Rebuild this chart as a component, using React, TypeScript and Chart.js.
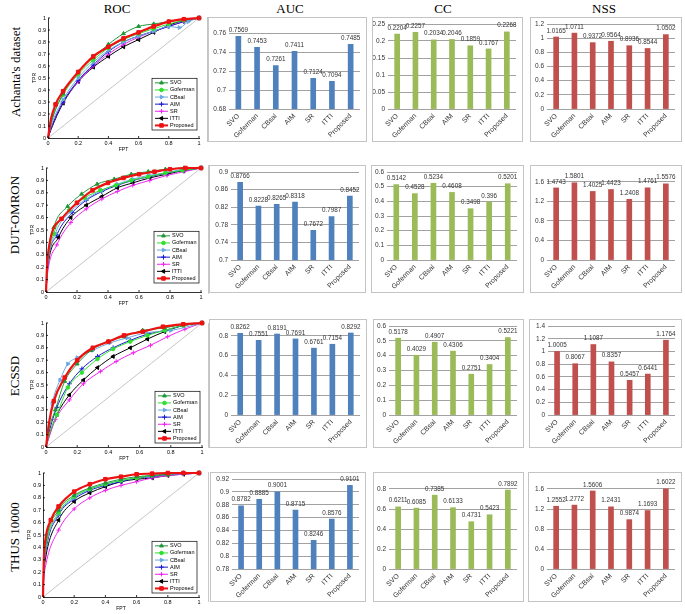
import React, { useEffect, useRef } from 'react';
import { Chart, registerables } from 'chart.js';
import { drawPoint } from 'chart.js/helpers';

Chart.register(...registerables);

// ---------------- data ----------------
const methods = ['SVO', 'Goferman', 'CBsal', 'AIM', 'SR', 'ITTI', 'Proposed'];
const datasetNames = ["Achanta's dataset", 'DUT-OMRON', 'ECSSD', 'THUS 10000'];
const columnTitles = ['ROC', 'AUC', 'CC', 'NSS'];

const aucAchanta = [0.7569, 0.7453, 0.7261, 0.7411, 0.7124, 0.7094, 0.7485];
const aucDut = [0.8766, 0.8228, 0.8265, 0.8318, 0.7672, 0.7987, 0.8452];
const aucEcssd = [0.8262, 0.7551, 0.8191, 0.7691, 0.6761, 0.7154, 0.8292];
const aucThus = [0.8782, 0.8885, 0.9001, 0.8715, 0.8246, 0.8576, 0.9101];

const ccAchanta = [0.2204, 0.2257, 0.2034, 0.2046, 0.1859, 0.1767, 0.2268];
const ccDut = [0.5142, 0.4528, 0.5234, 0.4608, 0.3498, 0.396, 0.5201];
const ccEcssd = [0.5178, 0.4029, 0.4907, 0.4306, 0.2751, 0.3404, 0.5221];
const ccThus = [0.6211, 0.6085, 0.7385, 0.6133, 0.4731, 0.5423, 0.7892];

const nssAchanta = [1.0165, 1.0711, 0.9372, 0.9564, 0.8936, 0.8544, 1.0502];
const nssDut = [1.4743, 1.5801, 1.4025, 1.4423, 1.2408, 1.4761, 1.5576];
const nssEcssd = [1.0005, 0.8067, 1.1087, 0.8357, 0.5457, 0.6441, 1.1764];
const nssThus = [1.2552, 1.2772, 1.5606, 1.2431, 0.9874, 1.1693, 1.6022];

// y axis ranges [min, max, step]
const aucTicks = [[0.68, 0.77, 0.01], [0.7, 0.9, 0.02], [0, 0.9, 0.1], [0.78, 0.92, 0.02]];
const ccTicks = [[0, 0.25, 0.05], [0, 0.6, 0.1], [0, 0.6, 0.1], [0, 0.9, 0.1]];
const nssTicks = [[0, 1.2, 0.2], [0, 1.8, 0.2], [0, 1.4, 0.2], [0, 1.8, 0.2]];
const rocXTicks = [0, 0.2, 0.4, 0.6, 0.8, 1];
const rocYTicks = [0, 0.1, 0.2, 0.3, 0.4, 0.5, 0.6, 0.7, 0.8, 0.9, 1];

// ROC curves (FPR, TPR), in method order
const rocAchanta: number[][][] = [
  [[0, 0], [0.02, 0.12], [0.1, 0.37], [0.2, 0.55], [0.3, 0.67], [0.4, 0.78], [0.5, 0.87], [0.6, 0.93], [0.7, 0.95], [0.8, 0.97], [0.9, 0.99], [1, 1]],
  [[0, 0], [0.02, 0.13], [0.1, 0.36], [0.2, 0.53], [0.3, 0.65], [0.4, 0.75], [0.5, 0.82], [0.6, 0.87], [0.7, 0.91], [0.8, 0.95], [0.9, 0.98], [1, 1]],
  [[0, 0], [0.02, 0.1], [0.1, 0.32], [0.2, 0.5], [0.3, 0.63], [0.4, 0.73], [0.5, 0.8], [0.6, 0.85], [0.7, 0.89], [0.8, 0.93], [0.87, 0.92], [0.93, 0.97], [1, 1]],
  [[0, 0], [0.02, 0.08], [0.1, 0.3], [0.2, 0.48], [0.3, 0.61], [0.4, 0.72], [0.5, 0.8], [0.6, 0.85], [0.7, 0.89], [0.8, 0.93], [0.9, 0.97], [1, 1]],
  [[0, 0], [0.02, 0.08], [0.1, 0.3], [0.2, 0.47], [0.3, 0.6], [0.4, 0.7], [0.5, 0.78], [0.6, 0.84], [0.7, 0.89], [0.8, 0.93], [0.9, 0.97], [1, 1]],
  [[0, 0], [0.02, 0.07], [0.1, 0.29], [0.2, 0.47], [0.3, 0.59], [0.4, 0.68], [0.5, 0.76], [0.6, 0.82], [0.7, 0.88], [0.8, 0.94], [0.9, 0.98], [1, 1]],
  [[0, 0], [0.02, 0.16], [0.05, 0.28], [0.1, 0.39], [0.2, 0.55], [0.3, 0.68], [0.4, 0.76], [0.5, 0.83], [0.6, 0.88], [0.7, 0.93], [0.8, 0.97], [0.9, 0.99], [1, 1]],
];
const rocDut: number[][][] = [
  [[0, 0], [0.01, 0.25], [0.05, 0.52], [0.14, 0.69], [0.23, 0.79], [0.33, 0.87], [0.44, 0.91], [0.55, 0.95], [0.66, 0.97], [0.77, 0.99], [0.89, 1], [1, 1]],
  [[0, 0], [0.01, 0.22], [0.05, 0.47], [0.15, 0.66], [0.25, 0.76], [0.35, 0.82], [0.45, 0.86], [0.55, 0.9], [0.66, 0.93], [0.77, 0.96], [0.88, 0.98], [1, 1]],
  [[0, 0], [0.01, 0.2], [0.06, 0.47], [0.16, 0.65], [0.26, 0.75], [0.36, 0.82], [0.46, 0.87], [0.56, 0.91], [0.66, 0.94], [0.77, 0.96], [0.88, 0.99], [1, 1]],
  [[0, 0], [0.01, 0.2], [0.07, 0.46], [0.17, 0.64], [0.26, 0.74], [0.36, 0.81], [0.46, 0.86], [0.56, 0.9], [0.67, 0.93], [0.78, 0.96], [0.89, 0.98], [1, 1]],
  [[0, 0], [0.01, 0.15], [0.07, 0.38], [0.16, 0.56], [0.26, 0.67], [0.36, 0.75], [0.46, 0.81], [0.56, 0.86], [0.67, 0.9], [0.78, 0.94], [0.89, 0.97], [1, 1]],
  [[0, 0], [0.01, 0.18], [0.08, 0.44], [0.16, 0.6], [0.26, 0.7], [0.36, 0.77], [0.46, 0.84], [0.56, 0.88], [0.67, 0.92], [0.78, 0.95], [0.89, 0.98], [1, 1]],
  [[0, 0], [0.01, 0.28], [0.1, 0.59], [0.2, 0.72], [0.3, 0.82], [0.4, 0.88], [0.5, 0.92], [0.6, 0.95], [0.7, 0.97], [0.8, 0.99], [0.9, 1], [1, 1]],
];
const rocEcssd: number[][][] = [
  [[0, 0], [0.02, 0.15], [0.06, 0.3], [0.12, 0.53], [0.2, 0.67], [0.29, 0.78], [0.4, 0.85], [0.5, 0.89], [0.62, 0.94], [0.76, 0.96], [0.88, 0.99], [1, 1]],
  [[0, 0], [0.02, 0.1], [0.07, 0.26], [0.14, 0.48], [0.23, 0.6], [0.33, 0.71], [0.43, 0.79], [0.54, 0.85], [0.65, 0.9], [0.76, 0.94], [0.88, 0.98], [1, 1]],
  [[0, 0], [0.02, 0.18], [0.04, 0.35], [0.09, 0.54], [0.14, 0.67], [0.2, 0.72], [0.3, 0.78], [0.41, 0.84], [0.52, 0.88], [0.64, 0.92], [0.8, 0.94], [1, 1]],
  [[0, 0], [0.02, 0.12], [0.07, 0.32], [0.15, 0.51], [0.23, 0.63], [0.33, 0.73], [0.43, 0.8], [0.54, 0.86], [0.65, 0.91], [0.76, 0.94], [0.88, 0.98], [1, 1]],
  [[0, 0], [0.02, 0.08], [0.06, 0.22], [0.15, 0.38], [0.24, 0.51], [0.35, 0.61], [0.45, 0.69], [0.56, 0.76], [0.67, 0.82], [0.78, 0.89], [0.89, 0.95], [1, 1]],
  [[0, 0], [0.02, 0.09], [0.07, 0.26], [0.15, 0.42], [0.24, 0.54], [0.33, 0.64], [0.43, 0.73], [0.54, 0.8], [0.65, 0.87], [0.76, 0.93], [0.88, 0.98], [1, 1]],
  [[0, 0], [0.02, 0.2], [0.05, 0.37], [0.12, 0.56], [0.2, 0.7], [0.3, 0.8], [0.4, 0.85], [0.5, 0.9], [0.62, 0.93], [0.75, 0.97], [0.88, 0.99], [1, 1]],
];
const rocThus: number[][][] = [
  [[0, 0], [0.005, 0.25], [0.015, 0.4], [0.1, 0.7], [0.2, 0.82], [0.3, 0.88], [0.4, 0.92], [0.5, 0.95], [0.6, 0.97], [0.7, 0.98], [0.8, 0.99], [0.9, 1], [1, 1]],
  [[0, 0], [0.005, 0.24], [0.015, 0.38], [0.1, 0.68], [0.2, 0.81], [0.3, 0.87], [0.4, 0.91], [0.5, 0.94], [0.6, 0.96], [0.7, 0.98], [0.8, 0.99], [0.9, 1], [1, 1]],
  [[0, 0], [0.005, 0.22], [0.015, 0.36], [0.1, 0.67], [0.2, 0.8], [0.3, 0.87], [0.4, 0.91], [0.5, 0.94], [0.6, 0.96], [0.7, 0.98], [0.8, 0.99], [0.9, 0.995], [1, 1]],
  [[0, 0], [0.005, 0.2], [0.015, 0.34], [0.1, 0.66], [0.2, 0.79], [0.3, 0.86], [0.4, 0.9], [0.5, 0.93], [0.6, 0.96], [0.7, 0.97], [0.8, 0.99], [0.9, 0.995], [1, 1]],
  [[0, 0], [0.005, 0.14], [0.015, 0.24], [0.1, 0.54], [0.2, 0.71], [0.3, 0.8], [0.4, 0.86], [0.5, 0.9], [0.6, 0.93], [0.7, 0.96], [0.8, 0.98], [0.9, 0.99], [1, 1]],
  [[0, 0], [0.005, 0.18], [0.015, 0.3], [0.1, 0.62], [0.2, 0.77], [0.3, 0.84], [0.4, 0.89], [0.5, 0.93], [0.6, 0.95], [0.7, 0.96], [0.8, 0.98], [0.9, 0.99], [1, 1]],
  [[0, 0], [0.005, 0.3], [0.015, 0.46], [0.05, 0.62], [0.1, 0.73], [0.2, 0.85], [0.3, 0.91], [0.4, 0.95], [0.5, 0.97], [0.6, 0.99], [0.7, 0.995], [0.8, 1], [0.9, 1], [1, 1]],
];

// ---------------- styles ----------------
const methodColors = ['#21963a', '#2ee02e', '#6aa8e0', '#1a1ad0', '#f025f0', '#000000', '#ee1111'];
const pointStyles = ['triangle', 'circle', 'triangle', 'cross', 'cross', 'triangle', 'rect'];
const pointRotations = [0, 0, 90, 0, 0, -90, 0];
const pointRadii = [2.2, 1.8, 2.2, 2.4, 2.2, 2.2, 2.5];
const aucColor = '#4F81BD';
const ccColor = '#9BBB59';
const nssColor = '#C0504D';
const sans = '"Liberation Sans", Arial, sans-serif';

const rocLegendPlugin = {
  id: 'rocLegend',
  afterDraw(chart: any) {
    const opts = chart.options.plugins.rocLegend;
    if (!opts) return;
    const { ctx, chartArea } = chart;
    // inward tick marks
    const xs = chart.scales.x;
    const ys = chart.scales.y;
    ctx.save();
    ctx.strokeStyle = '#000';
    ctx.lineWidth = 0.8;
    ctx.beginPath();
    rocXTicks.forEach((v) => {
      const px = xs.getPixelForValue(v);
      ctx.moveTo(px, chartArea.bottom);
      ctx.lineTo(px, chartArea.bottom - 2);
    });
    rocYTicks.forEach((v) => {
      const py = ys.getPixelForValue(v);
      ctx.moveTo(chartArea.left, py);
      ctx.lineTo(chartArea.left + 2, py);
    });
    ctx.stroke();
    ctx.restore();

    const w = 45;
    const rowH = 7.1;
    const h = rowH * 7 + 2;
    const x = chartArea.right - opts.right - w;
    const y = chartArea.bottom - opts.bottom - h;
    ctx.save();
    ctx.fillStyle = '#fff';
    ctx.fillRect(x, y, w, h);
    ctx.strokeStyle = '#000';
    ctx.lineWidth = 0.7;
    ctx.strokeRect(x, y, w, h);
    methods.forEach((m, i) => {
      const cy = y + 1 + rowH * (i + 0.5);
      ctx.strokeStyle = methodColors[i];
      ctx.fillStyle = methodColors[i];
      ctx.lineWidth = i === 6 ? 2 : 1;
      ctx.beginPath();
      ctx.moveTo(x + 3, cy);
      ctx.lineTo(x + 16, cy);
      ctx.stroke();
      ctx.lineWidth = 1;
      drawPoint(ctx, { pointStyle: pointStyles[i], rotation: pointRotations[i], radius: pointRadii[i], borderWidth: 1 } as any, x + 9.5, cy);
      ctx.fillStyle = '#000';
      ctx.font = '5.5px ' + sans;
      ctx.textBaseline = 'middle';
      ctx.textAlign = 'left';
      ctx.fillText(m, x + 18, cy);
    });
    ctx.restore();
  },
};

const barLabelPlugin = {
  id: 'barLabels',
  afterDatasetsDraw(chart: any) {
    const { ctx } = chart;
    const meta = chart.getDatasetMeta(0);
    const values = chart.data.datasets[0].data;
    ctx.save();
    ctx.font = '6.3px ' + sans;
    ctx.fillStyle = '#333';
    ctx.textAlign = 'center';
    ctx.textBaseline = 'bottom';
    meta.data.forEach((el: any, i: number) => {
      ctx.fillText(String(values[i]), el.x, el.y - 3);
    });
    ctx.restore();
  },
};

function rocConfig(curves: number[][][], legendBottom: number) {
  const datasets: any[] = curves.map((pts, i) => ({
    label: methods[i],
    data: pts.map(([x, y]) => ({ x, y })),
    borderColor: methodColors[i],
    backgroundColor: methodColors[i],
    borderWidth: i === 6 ? 2.2 : 1,
    pointStyle: pointStyles[i],
    pointRotation: pointRotations[i],
    pointRadius: (c: any) => (c.raw && c.raw.x < 0.04 ? 0 : pointRadii[i]),
    pointBorderWidth: 1,
    cubicInterpolationMode: 'monotone',
    clip: false,
    order: i === 6 ? 0 : 1 + i,
  }));
  datasets.push({
    label: 'diag',
    data: [{ x: 0, y: 0 }, { x: 1, y: 1 }],
    borderColor: '#b8b8b8',
    borderWidth: 0.8,
    pointRadius: 0,
    order: 20,
  });
  const tickFont = { size: 5.5, family: sans };
  return {
    type: 'line',
    data: { datasets },
    options: {
      responsive: false,
      animation: false,
      layout: { padding: { top: 6, right: 8, left: 0, bottom: 0 } },
      plugins: { legend: { display: false }, tooltip: { enabled: false }, rocLegend: { right: 2, bottom: legendBottom } },
      scales: {
        x: {
          type: 'linear', min: 0, max: 1,
          afterBuildTicks: (s: any) => { s.ticks = rocXTicks.map((v) => ({ value: v })); },
          ticks: { autoSkip: false, maxRotation: 0, font: tickFont, color: '#000', padding: 2, callback: (v: any) => String(Number(Number(v).toFixed(1))) },
          grid: { display: false, drawTicks: false },
          border: { color: '#000', width: 0.8 },
          title: { display: true, text: 'FPT', font: { size: 5, family: sans }, color: '#000', padding: 0 },
          afterFit: (s: any) => { s.height = 15; s.paddingLeft = 0; s.paddingRight = 0; },
        },
        y: {
          type: 'linear', min: 0, max: 1,
          afterBuildTicks: (s: any) => { s.ticks = rocYTicks.map((v) => ({ value: v })); },
          ticks: { autoSkip: false, font: tickFont, color: '#000', padding: 2, callback: (v: any) => String(Number(Number(v).toFixed(1))) },
          grid: { display: false, drawTicks: false },
          border: { color: '#000', width: 0.8 },
          title: { display: true, text: 'TPR', font: { size: 5, family: sans }, color: '#000', padding: 0 },
          afterFit: (s: any) => { s.width = 16; s.paddingTop = 0; s.paddingBottom = 0; },
        },
      },
    },
    plugins: [rocLegendPlugin],
  };
}

function barConfig(values: number[], color: string, ticks: number[], yWidth: number) {
  const [min, max, step] = ticks;
  return {
    type: 'bar',
    data: { labels: methods, datasets: [{ data: values, backgroundColor: color, barThickness: 5 }] },
    options: {
      responsive: false,
      animation: false,
      layout: { padding: { top: 6, right: 6, left: 0, bottom: 0 } },
      plugins: { legend: { display: false }, tooltip: { enabled: false } },
      scales: {
        x: {
          grid: { display: false, drawTicks: false },
          border: { display: false },
          ticks: { minRotation: 45, maxRotation: 45, autoSkip: false, font: { size: 7, family: sans }, color: '#333', padding: 3 },
          afterFit: (s: any) => { s.height = 32; s.paddingLeft = 0; s.paddingRight = 0; },
        },
        y: {
          min, max,
          ticks: { stepSize: step, font: { size: 6.5, family: sans }, color: '#333', padding: 3, callback: (v: any) => String(Number(Number(v).toFixed(2))) },
          grid: { color: '#8a8a8a', lineWidth: 0.8, drawTicks: false },
          border: { display: false },
          afterFit: (s: any) => { s.width = yWidth; s.paddingTop = 0; s.paddingBottom = 0; },
        },
      },
    },
    plugins: [barLabelPlugin],
  };
}

// ---------------- layout ----------------
const rocRects = [
  { L: 48, R: 199, T: 18, B: 138, legendBottom: 8 },
  { L: 46, R: 201, T: 168, B: 292, legendBottom: 9 },
  { L: 46, R: 202, T: 323, B: 447, legendBottom: 4 },
  { L: 43, R: 199, T: 473, B: 597, legendBottom: 4 },
];
const rowBoxes = [
  { top: 17, h: 125, auc: [207, 160], cc: [372, 151], nss: [530, 152] },
  { top: 165, h: 128, auc: [209, 157], cc: [371, 153], nss: [530, 152] },
  { top: 319, h: 129, auc: [209, 158], cc: [373, 151], nss: [529, 153] },
  { top: 472, h: 130, auc: [210, 156], cc: [373, 151], nss: [528, 154] },
];
const panelLines = [[17, 142], [165, 294], [323, 448], [472, 602]];
const titleCenters = [117, 290, 443, 604];
const rowLabelCenters = [[16, 72], [15, 215], [15, 376], [15, 537]];

function ChartCanvas({ left, top, width, height, config }: any) {
  const ref = useRef<HTMLCanvasElement>(null);
  useEffect(() => {
    const chart = new Chart(ref.current as HTMLCanvasElement, config);
    return () => chart.destroy();
  }, []);
  return (
    <canvas
      ref={ref}
      width={width}
      height={height}
      style={{ position: 'absolute', left, top, width, height }}
    />
  );
}

function BarBox({ left, top, width, height, config }: any) {
  return (
    <>
      <div style={{ position: 'absolute', left, top, width: width - 2, height: height - 2, border: '1px solid #c4c4c4' }} />
      <ChartCanvas left={left + 1} top={top + 1} width={width - 2} height={height - 2} config={config} />
    </>
  );
}

export default function App() {
  const rocs = [rocAchanta, rocDut, rocEcssd, rocThus];
  const aucs = [aucAchanta, aucDut, aucEcssd, aucThus];
  const ccs = [ccAchanta, ccDut, ccEcssd, ccThus];
  const nsss = [nssAchanta, nssDut, nssEcssd, nssThus];
  const serif = '"Liberation Serif", "Times New Roman", serif';
  return (
    <div style={{ position: 'fixed', left: 0, top: 0, width: 685, height: 614, background: '#fff', overflow: 'hidden' }}>
      {columnTitles.map((t, i) => (
        <div key={t} style={{ position: 'absolute', left: titleCenters[i], top: 9, transform: 'translate(-50%, -50%)', fontFamily: serif, fontSize: 13, color: '#000', whiteSpace: 'nowrap' }}>{t}</div>
      ))}
      {datasetNames.map((n, i) => (
        <div key={n} style={{ position: 'absolute', left: rowLabelCenters[i][0], top: rowLabelCenters[i][1], transform: 'translate(-50%, -50%) rotate(-90deg)', fontFamily: serif, fontSize: 13, color: '#000', whiteSpace: 'nowrap' }}>{n}</div>
      ))}
      {panelLines.map(([a, b], i) => (
        <div key={'pl' + i} style={{ position: 'absolute', left: 208, top: a, width: 1, height: b - a, background: '#c8c8c8' }} />
      ))}
      {rocRects.map((r, i) => (
        <ChartCanvas
          key={'roc' + i}
          left={r.L - 16}
          top={r.T - 6}
          width={r.R - r.L + 16 + 8}
          height={r.B - r.T + 6 + 15}
          config={rocConfig(rocs[i], r.legendBottom)}
        />
      ))}
      {rowBoxes.map((b, i) => (
        <React.Fragment key={'row' + i}>
          <BarBox left={b.auc[0]} top={b.top} width={b.auc[1]} height={b.h} config={barConfig(aucs[i], aucColor, aucTicks[i], 21)} />
          <BarBox left={b.cc[0]} top={b.top} width={b.cc[1]} height={b.h} config={barConfig(ccs[i], ccColor, ccTicks[i], 15)} />
          <BarBox left={b.nss[0]} top={b.top} width={b.nss[1]} height={b.h} config={barConfig(nsss[i], nssColor, nssTicks[i], i >= 2 ? 18 : 16)} />
        </React.Fragment>
      ))}
    </div>
  );
}
